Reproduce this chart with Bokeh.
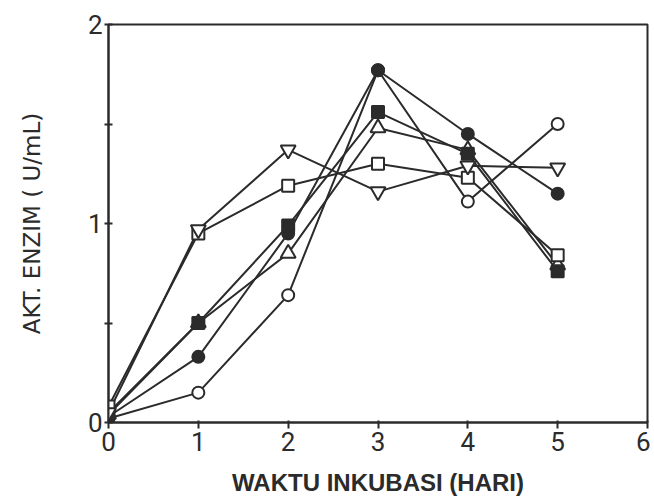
from bokeh.plotting import figure
from bokeh.models import Range1d, FixedTicker
from bokeh.embed import file_html
from bokeh.resources import INLINE

days = [0, 1, 2, 3, 4, 5]
open_circle = [0.02, 0.15, 0.64, 1.77, 1.11, 1.50]
filled_circle = [0.03, 0.33, 0.95, 1.77, 1.45, 1.15]
filled_square = [0.05, 0.50, 0.99, 1.56, 1.35, 0.76]
open_triangle = [0.04, 0.50, 0.85, 1.48, 1.37, 0.79]
open_square = [0.08, 0.95, 1.19, 1.30, 1.23, 0.84]
open_tri_down = [0.05, 0.97, 1.37, 1.16, 1.29, 1.28]

x_ticks = [0, 1, 2, 3, 4, 5, 6]
y_ticks = [0, 1, 2]
y_minor = [0.5, 1.5]

INK = "#2b2b2b"

p = figure(width=650, height=498, output_backend="svg", toolbar_location=None,
           x_range=Range1d(0, 6), y_range=Range1d(0, 2),
           min_border_left=108, min_border_right=3, min_border_top=24, min_border_bottom=74)
p.background_fill_color = "white"
p.border_fill_color = "white"
p.grid.visible = False
p.outline_line_color = INK
p.outline_line_width = 2

series = [
    (open_circle, "circle", "white", 12),
    (filled_circle, "circle", INK, 12),
    (open_triangle, "triangle", "white", 15),
    (filled_square, "square", INK, 12),
    (open_square, "square", "white", 12),
    (open_tri_down, "inverted_triangle", "white", 15),
]
for ys, _, _, _ in series:
    p.line(days, ys, line_color=INK, line_width=2)
for ys, mk, fill, sz in series:
    p.scatter(days, ys, marker=mk, size=sz, fill_color=fill, line_color=INK, line_width=2)

xa = p.xaxis[0]
xa.ticker = FixedTicker(ticks=x_ticks)
xa.axis_line_width = 2
xa.axis_line_color = INK
xa.major_tick_line_color = INK
xa.major_tick_line_width = 2
xa.major_tick_out = 6
xa.major_tick_in = 2
xa.minor_tick_line_color = None
xa.major_label_text_font = "Roboto"
xa.major_label_text_font_size = "26px"
xa.major_label_text_color = INK
xa.major_label_standoff = 3
xa.axis_label = "WAKTU INKUBASI (HARI)"
xa.axis_label_text_font = "Liberation Sans"
xa.axis_label_text_font_style = "bold"
xa.axis_label_text_font_size = "24px"
xa.axis_label_text_color = INK
xa.axis_label_standoff = 15

ya = p.yaxis[0]
ya.ticker = FixedTicker(ticks=y_ticks, minor_ticks=y_minor)
ya.axis_line_width = 2
ya.axis_line_color = INK
ya.major_tick_line_color = INK
ya.major_tick_line_width = 2
ya.major_tick_out = 4
ya.major_tick_in = 4
ya.minor_tick_line_color = INK
ya.minor_tick_line_width = 2
ya.minor_tick_out = 4
ya.minor_tick_in = 4
ya.major_label_text_font = "Roboto"
ya.major_label_text_font_size = "26px"
ya.major_label_text_color = INK
ya.major_label_standoff = 2
ya.axis_label = "AKT. ENZIM ( U/mL)"
ya.axis_label_text_font = "DejaVu Sans"
ya.axis_label_text_font_style = "normal"
ya.axis_label_text_font_size = "23px"
ya.axis_label_text_color = INK
ya.axis_label_standoff = 40

open("out.html", "w").write(file_html(p, INLINE))
